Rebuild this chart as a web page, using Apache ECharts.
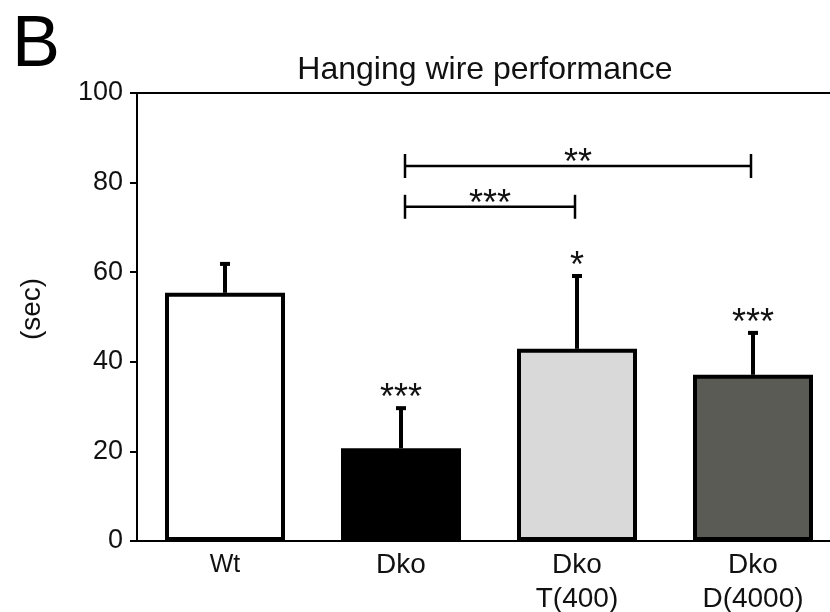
<!DOCTYPE html>
<html>
<head>
<meta charset="utf-8">
<script src="https://cdn.jsdelivr.net/npm/echarts@6/dist/echarts.min.js"></script>
<style>
  html, body { margin: 0; padding: 0; background: #ffffff; }
  #chart { width: 830px; height: 612px; }
</style>
</head>
<body>
<div id="chart"></div>
<script>
// ---- data ----
var categories = ['Wt', 'Dko', 'Dko\nT(400)', 'Dko\nD(4000)'];
var means = [55.4, 20.7, 42.9, 37.1];
var errUpper = [62.3, 30.1, 59.6, 46.9];
var barColors = ['#ffffff', '#000000', '#d9d9d9', '#5a5b55'];
var starLabels = ['', '***', '*', '***'];
var bracketFrom = [1, 1];
var bracketTo = [2, 3];
var bracketValue = [74.6, 83.7];
var bracketLabels = ['***', '**'];
var yTicks = [0, 20, 40, 60, 80, 100];
var yName = '(sec)';

var FONT = 'Liberation Sans, Arial, sans-serif';

var chart = echarts.init(document.getElementById('chart'), null, { renderer: 'canvas' });

var barData = means.map(function (v, i) {
  return { value: v, itemStyle: { color: barColors[i] } };
});

var errData = means.map(function (v, i) { return [i, v, errUpper[i]]; });
var bracketData = bracketFrom.map(function (f, i) {
  return [f, bracketTo[i], bracketValue[i]];
});

var option = {
  animation: false,
  backgroundColor: '#ffffff',
  graphic: [
    { type: 'text', left: 12, top: 10, style: { text: 'B', font: '72px ' + FONT, fill: '#000' } },
    { type: 'text', x: 32, y: 309, rotation: Math.PI / 2,
      style: { text: yName, font: '28px ' + FONT, fill: '#111', align: 'center', verticalAlign: 'middle' } }
  ],
  title: {
    text: 'Hanging wire performance',
    left: 480, top: 49, textAlign: 'center',
    textStyle: { fontSize: 32, fontWeight: 'normal', color: '#111', fontFamily: FONT }
  },
  grid: { left: 137, top: 93, width: 704, bottom: 71, containLabel: false, outerBoundsMode: 'none' },
  xAxis: [
    {
      type: 'category', data: categories, position: 'bottom',
      axisLine: { lineStyle: { color: '#000', width: 2 } },
      axisTick: { show: false },
      axisLabel: {
        fontSize: 28, color: '#111', fontFamily: FONT, lineHeight: 34, margin: 7, interval: 0,
        formatter: function (v) { return v === 'Wt' ? '{s|' + v + '}' : v; },
        rich: { s: { fontSize: 25, fontFamily: FONT, color: '#111', lineHeight: 34 } }
      }
    },
    {
      type: 'category', data: categories, position: 'top',
      axisLine: { show: true, lineStyle: { color: '#000', width: 2 } },
      axisTick: { show: false }, axisLabel: { show: false }
    }
  ],
  yAxis: {
    type: 'value', min: yTicks[0], max: yTicks[yTicks.length - 1], interval: 20,
    axisLine: { show: true, lineStyle: { color: '#000', width: 2 } },
    axisTick: { show: true, length: 7, lineStyle: { color: '#000', width: 2 } },
    axisLabel: { fontSize: 27, color: '#111', fontFamily: FONT, margin: 14 },
    splitLine: { show: false }
  },
  series: [
    {
      type: 'bar', data: barData, barWidth: 120,
      itemStyle: { borderColor: '#000', borderWidth: 4 },
      z: 2
    },
    {
      type: 'custom',
      data: errData,
      z: 1,
      renderItem: function (params, api) {
        var i = api.value(0);
        var p0 = api.coord([i, api.value(1)]);
        var p1 = api.coord([i, api.value(2)]);
        var label = starLabels[params.dataIndex];
        var children = [
          { type: 'line', shape: { x1: p0[0], y1: p0[1], x2: p1[0], y2: p1[1] + 2 }, style: { stroke: '#000', lineWidth: 4 } },
          { type: 'rect', shape: { x: p1[0] - 5, y: p1[1], width: 10, height: 4 }, style: { fill: '#000' } }
        ];
        if (label) {
          children.push({
            type: 'text', z2: 10,
            style: { text: label, x: p1[0], y: p1[1] + 11, align: 'center', verticalAlign: 'bottom', font: '36px ' + FONT, fill: '#111' }
          });
        }
        return { type: 'group', children: children };
      }
    },
    {
      type: 'custom',
      data: bracketData,
      z: 3,
      renderItem: function (params, api) {
        var a = api.coord([api.value(0), api.value(2)]);
        var b = api.coord([api.value(1), api.value(2)]);
        var x1 = a[0] + 4, x2 = b[0] - 2, y = a[1];
        var label = bracketLabels[params.dataIndex];
        return {
          type: 'group',
          children: [
            { type: 'line', shape: { x1: x1, y1: y, x2: x2, y2: y }, style: { stroke: '#000', lineWidth: 2.5 } },
            { type: 'line', shape: { x1: x1, y1: y - 12, x2: x1, y2: y + 12 }, style: { stroke: '#000', lineWidth: 2.5 } },
            { type: 'line', shape: { x1: x2, y1: y - 12, x2: x2, y2: y + 12 }, style: { stroke: '#000', lineWidth: 2.5 } },
            { type: 'text', style: { text: label, x: (x1 + x2) / 2, y: y + 16, align: 'center', verticalAlign: 'bottom', font: '36px ' + FONT, fill: '#111' } }
          ]
        };
      }
    }
  ]
};

chart.setOption(option);
</script>
</body>
</html>
